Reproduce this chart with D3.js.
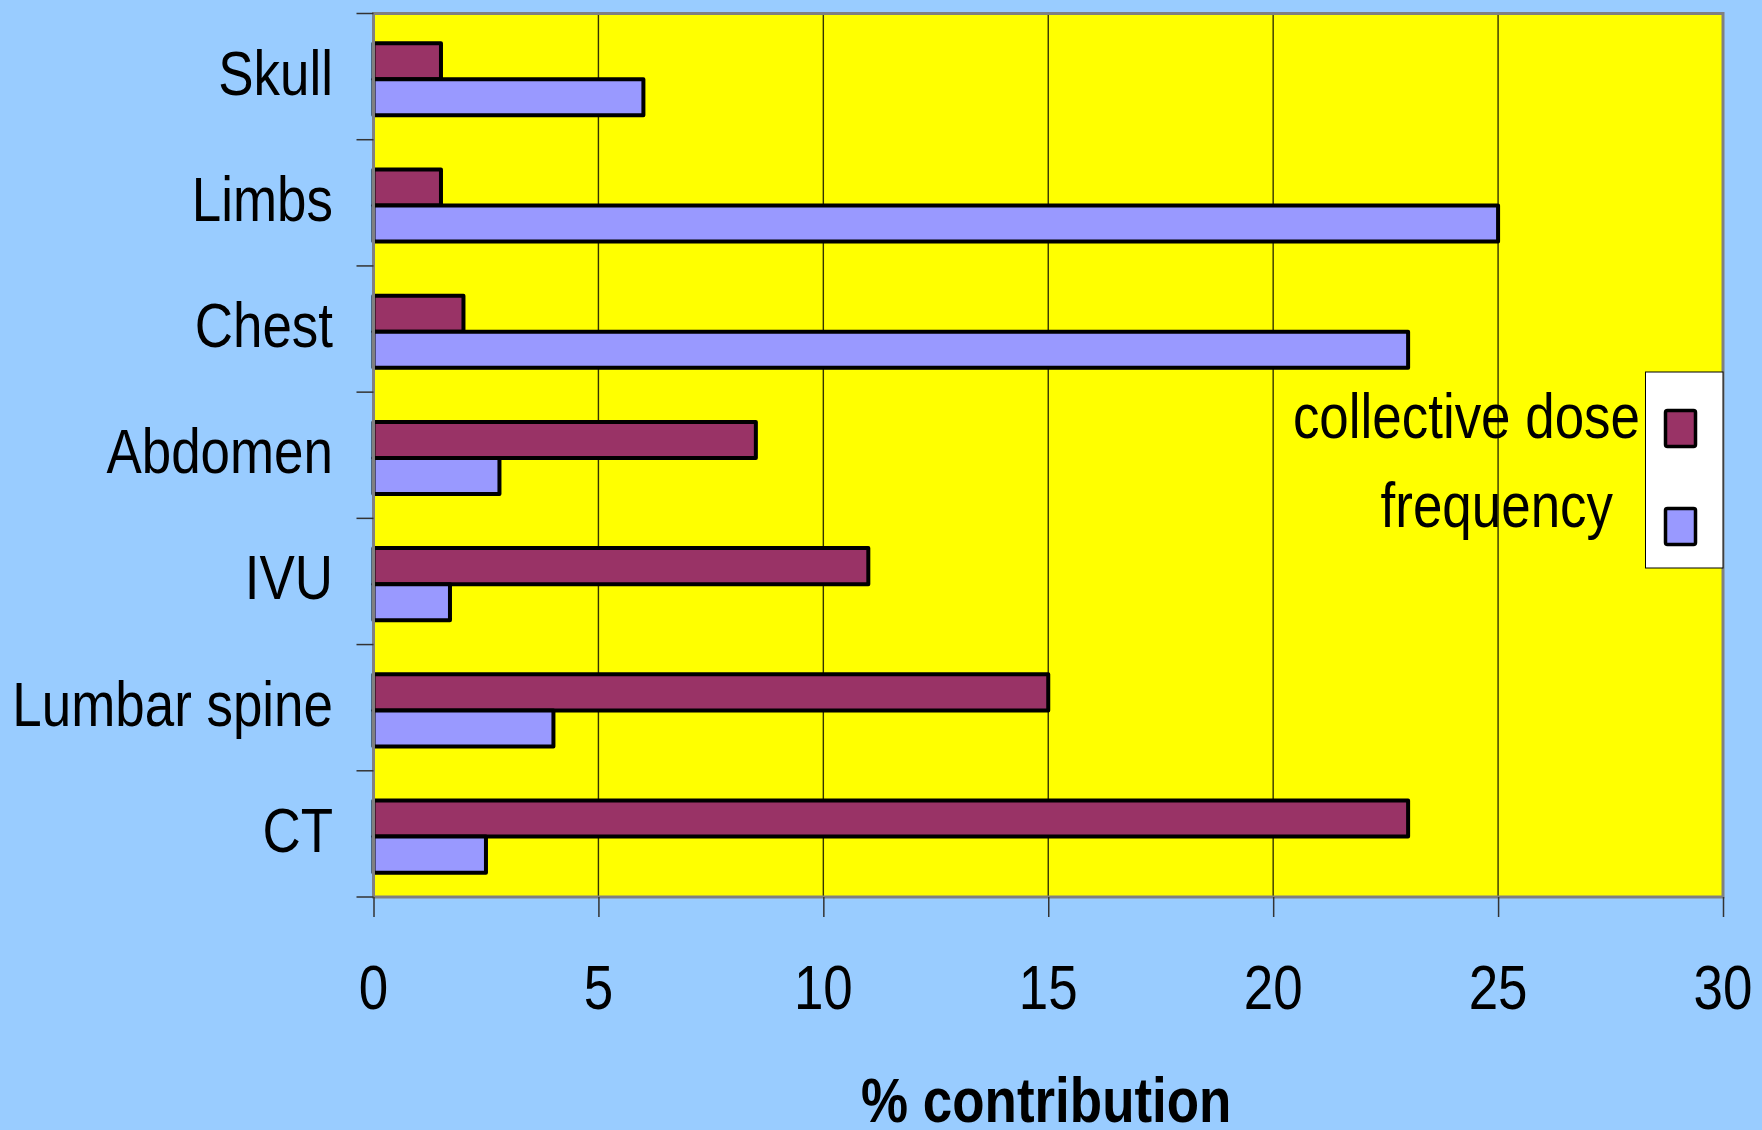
<!DOCTYPE html>
<html>
<head>
<meta charset="utf-8">
<script src="https://cdn.jsdelivr.net/npm/d3@7/dist/d3.min.js"></script>
<style>
  html, body { margin: 0; padding: 0; background: #99CCFF; }
  svg { display: block; }
</style>
</head>
<body>
<svg id="chart" width="1762" height="1130"></svg>
<script>
// Examination categories, top to bottom
const categories = ["Skull", "Limbs", "Chest", "Abdomen", "IVU", "Lumbar spine", "CT"];
// Percentage contribution of each examination
const collectiveDose = [1.5, 1.5, 2.0, 8.5, 11.0, 15.0, 23.0];
const frequency = [6.0, 25.0, 23.0, 2.8, 1.7, 4.0, 2.5];
const seriesNames = ["collective dose", "frequency"];
const xTicks = [0, 5, 10, 15, 20, 25, 30];
const xTitle = "% contribution";

const colors = { "collective dose": "#993366", "frequency": "#9999FF" };
const FONT = "'Liberation Sans', Arial, sans-serif";
const FS = 63;

const svg = d3.select("#chart");
const plot = { left: 373.5, right: 1723, top: 13.5, bottom: 897 };

const x = d3.scaleLinear().domain([0, 30]).range([plot.left, plot.right]);
const y = d3.scaleBand().domain(categories).range([plot.top, plot.bottom]).padding(0);
const ySub = d3.scaleBand().domain(seriesNames).range([0, y.bandwidth()])
  .paddingInner(0).paddingOuter(0.75).align(0.55);

// Condensed text: draw in Liberation Sans, squeeze horizontally
function narrow(sel) {
  sel.each(function () {
    const len = this.getComputedTextLength();
    d3.select(this).attr("textLength", len * 0.84).attr("lengthAdjust", "spacingAndGlyphs");
  });
}

// Plot background
svg.append("rect")
  .attr("x", plot.left).attr("y", plot.top)
  .attr("width", plot.right - plot.left).attr("height", plot.bottom - plot.top)
  .attr("fill", "#FFFF00");

// Vertical gridlines
svg.append("g").selectAll("line").data(xTicks.slice(1, -1)).join("line")
  .attr("x1", d => x(d)).attr("x2", d => x(d))
  .attr("y1", plot.top).attr("y2", plot.bottom)
  .attr("stroke", "#333300").attr("stroke-width", 1.4);

// Bars
const rows = categories.map((c, i) => ({ cat: c, values: [
  { key: "collective dose", v: collectiveDose[i] },
  { key: "frequency", v: frequency[i] }
]}));

const groups = svg.append("g").selectAll("g").data(rows).join("g")
  .attr("transform", d => `translate(0,${y(d.cat)})`);
groups.selectAll("rect").data(d => d.values).join("rect")
  .attr("x", x(0))
  .attr("y", d => ySub(d.key))
  .attr("width", d => x(d.v) - x(0))
  .attr("height", ySub.bandwidth())
  .attr("fill", d => colors[d.key])
  .attr("stroke", "#000").attr("stroke-width", 4).attr("stroke-linejoin", "round");

// Plot frame
svg.append("rect")
  .attr("x", plot.left).attr("y", plot.top)
  .attr("width", plot.right - plot.left).attr("height", plot.bottom - plot.top)
  .attr("fill", "none").attr("stroke", "#808080").attr("stroke-width", 3);

// Category axis ticks at band boundaries
const bounds = categories.map(c => y(c)).concat([plot.bottom]);
svg.append("g").selectAll("line").data(bounds).join("line")
  .attr("x1", plot.left - 17).attr("x2", plot.left)
  .attr("y1", d => d).attr("y2", d => d)
  .attr("stroke", "#333").attr("stroke-width", 1.5);

// Category labels
svg.append("g").selectAll("text").data(categories).join("text")
  .attr("x", 333)
  .attr("y", d => y(d) + y.bandwidth() / 2 + 18)
  .attr("text-anchor", "end")
  .attr("font-family", FONT).attr("font-size", FS)
  .attr("fill", "#000")
  .text(d => d)
  .call(narrow);

// Value axis
const xAxis = d3.axisBottom(x).tickValues(xTicks).tickSize(20).tickFormat("");
const gx = svg.append("g").attr("transform", `translate(0,${plot.bottom})`).call(xAxis);
gx.select(".domain").remove();
gx.selectAll(".tick line").attr("stroke", "#333").attr("stroke-width", 1.5);

svg.append("g").selectAll("text").data(xTicks).join("text")
  .attr("x", d => x(d))
  .attr("y", 1009)
  .attr("text-anchor", "middle")
  .attr("font-family", FONT).attr("font-size", FS)
  .text(d => d)
  .call(narrow);

// Axis title
svg.append("text")
  .attr("x", (plot.left + plot.right) / 2 - 2)
  .attr("y", 1122)
  .attr("text-anchor", "middle")
  .attr("font-family", FONT).attr("font-size", FS).attr("font-weight", "bold")
  .text(xTitle)
  .call(narrow);

// Legend
const legend = svg.append("g");
legend.append("rect")
  .attr("x", 1645.5).attr("y", 372).attr("width", 77.5).attr("height", 196)
  .attr("fill", "#fff").attr("stroke", "#000").attr("stroke-width", 1);
const legendItems = [
  { key: "collective dose", tx: 1640, ty: 438, sy: 409 },
  { key: "frequency", tx: 1613, ty: 527, sy: 507 }
];
legend.selectAll("rect.sw").data(legendItems).join("rect")
  .attr("class", "sw")
  .attr("x", 1665.5).attr("y", d => d.sy + 1.5)
  .attr("width", 30).attr("height", 36)
  .attr("rx", 2)
  .attr("fill", d => colors[d.key])
  .attr("stroke", "#000").attr("stroke-width", 3.5);
legend.selectAll("text").data(legendItems).join("text")
  .attr("x", d => d.tx).attr("y", d => d.ty)
  .attr("text-anchor", "end")
  .attr("font-family", FONT).attr("font-size", FS)
  .text(d => d.key)
  .call(narrow);
</script>
</body>
</html>
